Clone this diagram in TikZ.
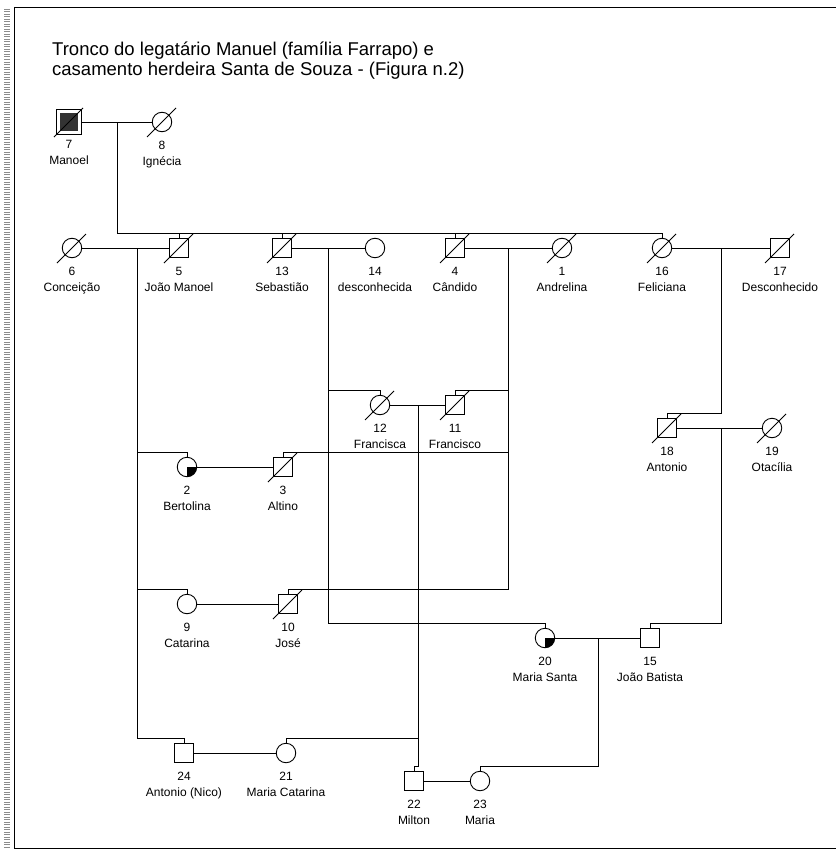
\documentclass[tikz,border=0pt]{standalone}
\usepackage{fontspec}
\setmainfont{Liberation Sans}

\begin{document}
\begin{tikzpicture}[
  x=1pt, y=1pt,
  font=\fontsize{12}{16}\selectfont,
  sym/.style   ={draw, line width=0.9pt, inner sep=0pt, minimum size=19.5pt, fill=white},
  male/.style  ={sym, rectangle},
  fem/.style   ={sym, circle},
  slash/.style ={draw, line width=0.9pt},
  dead/.style  ={append after command={([shift={(-15,-15)}]\tikzlastnode.center)
                 edge[slash] ([shift={(14,14)}]\tikzlastnode.center)}},
  part/.style  ={path picture={\fill[black] (path picture bounding box.center)
                 rectangle (path picture bounding box.south east);}},
  lbl/.style   ={align=center, inner sep=0pt, yshift=-9pt},
  ln/.style    ={line width=0.9pt},
]
\useasboundingbox (0,0) rectangle (836,-851);

% ---- frame ----
\draw[black!45, line width=6pt, dash pattern=on 1pt off 1.5pt] (7,-9) -- (7,-848);
\draw[ln] (14,-7) -- (836,-7);
\draw[ln] (14,-7) -- (14,-848) -- (836,-848);

\node[anchor=base west, align=left, inner sep=0pt, font=\fontsize{18.5}{20}\selectfont] (title) at (52,-75)
  {Tronco do legatário Manuel (família Farrapo) e\\casamento herdeira Santa de Souza - (Figura n.2)};

% ---- generation I ----
\node[male, minimum size=25pt, dead,
      path picture={\fill[black!80] ([shift={(3.5,-3.5)}]path picture bounding box.north west)
                    rectangle ([shift={(-3.5,3.5)}]path picture bounding box.south east);},
      label={[lbl,yshift=4pt,name=t7]below:7\\Manoel}] (p7)  at ( 69,-122) {};
\node[fem,  dead, label={[lbl,name=t8]below:8\\Ignécia}]   (p8)  at (162,-122) {};

% ---- generation II ----
\node[fem,  dead, label={[lbl,name=t6]below:6\\Conceição}]      (p6)  at ( 72,-248) {};
\node[male, dead, label={[lbl,name=t5]below:5\\João Manoel}]    (p5)  at (179,-248) {};
\node[male, dead, label={[lbl,name=t13]below:13\\Sebastião}]    (p13) at (282,-248) {};
\node[fem,        label={[lbl,name=t14]below:14\\desconhecida}] (p14) at (375,-248) {};
\node[male, dead, label={[lbl,name=t4]below:4\\Cândido}]        (p4)  at (455,-248) {};
\node[fem,  dead, label={[lbl,name=t1]below:1\\Andrelina}]      (p1)  at (562,-248) {};
\node[fem,  dead, label={[lbl,name=t16]below:16\\Feliciana}]    (p16) at (662,-248) {};
\node[male, dead, label={[lbl,name=t17]below:17\\Desconhecido}] (p17) at (780,-248) {};

% ---- generation III ----
\node[fem,  dead, label={[lbl,name=t12]below:12\\Francisca}]    (p12) at (380,-405) {};
\node[male, dead, label={[lbl,name=t11]below:11\\Francisco}]    (p11) at (455,-405) {};
\node[male, dead, label={[lbl,name=t18]below:18\\Antonio}]      (p18) at (667,-428) {};
\node[fem,  dead, label={[lbl,name=t19]below:19\\Otacília}]     (p19) at (772,-428) {};
\node[fem,  part, label={[lbl,name=t2]below:2\\Bertolina}]      (p2)  at (187,-467) {};
\node[male, dead, label={[lbl,name=t3]below:3\\Altino}]         (p3)  at (283,-467) {};
\node[fem,        label={[lbl,name=t9]below:9\\Catarina}]       (p9)  at (187,-604) {};
\node[male, dead, label={[lbl,name=t10]below:10\\José}]         (p10) at (288,-604) {};
\node[fem,  part, label={[lbl,name=t20]below:20\\Maria Santa}]  (p20) at (545,-638) {};
\node[male,       label={[lbl,name=t15]below:15\\João Batista}] (p15) at (650,-638) {};

% ---- generation IV ----
\node[male, label={[lbl,name=t24]below:24\\Antonio (Nico)}]     (p24) at (184,-753) {};
\node[fem,  label={[lbl,name=t21]below:21\\Maria Catarina}]     (p21) at (286,-753) {};
\node[male, label={[lbl,name=t22]below:22\\Milton}]             (p22) at (414,-781) {};
\node[fem,  label={[lbl,name=t23]below:23\\Maria}]              (p23) at (480,-781) {};

% ---- descent points ----
\coordinate (m78)   at (117,-122);
\coordinate (m65)   at (137,-248);
\coordinate (m1314) at (328,-248);
\coordinate (m41)   at (508,-248);
\coordinate (m1617) at (721,-248);
\coordinate (m1211) at (418,-405);
\coordinate (m1819) at (721,-428);
\coordinate (m2015) at (598,-638);

% ---- marriages ----
\draw[ln] (p7)  -- (p8);
\draw[ln] (p6)  -- (p5);
\draw[ln] (p13) -- (p14);
\draw[ln] (p4)  -- (p1);
\draw[ln] (p16) -- (p17);
\draw[ln] (p12) -- (p11);
\draw[ln] (p18) -- (p19);
\draw[ln] (p2)  -- (p3);
\draw[ln] (p9)  -- (p10);
\draw[ln] (p20) -- (p15);
\draw[ln] (p24) -- (p21);
\draw[ln] (p22) -- (p23);

% ---- children ----
\draw[ln] (m78) |- ([yshift=4pt]p16.north) -- (p16.north);
\draw[ln] ([yshift=4pt]p5.north)  -- (p5.north);
\draw[ln] ([yshift=4pt]p13.north) -- (p13.north);
\draw[ln] ([yshift=4pt]p4.north)  -- (p4.north);

\draw[ln] (m65) |- ([yshift=4pt]p24.north) -- (p24.north);
\draw[ln] (m65) |- ([yshift=4pt]p2.north)  -- (p2.north);
\draw[ln] (m65) |- ([yshift=4pt]p9.north)  -- (p9.north);

\draw[ln] (m1314) |- ([yshift=4pt]p20.north) -- (p20.north);
\draw[ln] (m1314) |- ([yshift=4pt]p12.north) -- (p12.north);

\draw[ln] (m41) |- ([yshift=4pt]p10.north) -- (p10.north);
\draw[ln] (m41) |- ([yshift=4pt]p3.north)  -- (p3.north);
\draw[ln] (m41) |- ([yshift=4pt]p11.north) -- (p11.north);

\draw[ln] (m1617) |- ([yshift=4pt]p18.north) -- (p18.north);
\draw[ln] (m1819) |- ([yshift=4pt]p15.north) -- (p15.north);

\draw[ln] (m1211) |- ([yshift=4pt]p22.north) -- (p22.north);
\draw[ln] (m1211) |- ([yshift=4pt]p21.north) -- (p21.north);

\draw[ln] (m2015) |- ([yshift=4pt]p23.north) -- (p23.north);
\end{tikzpicture}
\end{document}
